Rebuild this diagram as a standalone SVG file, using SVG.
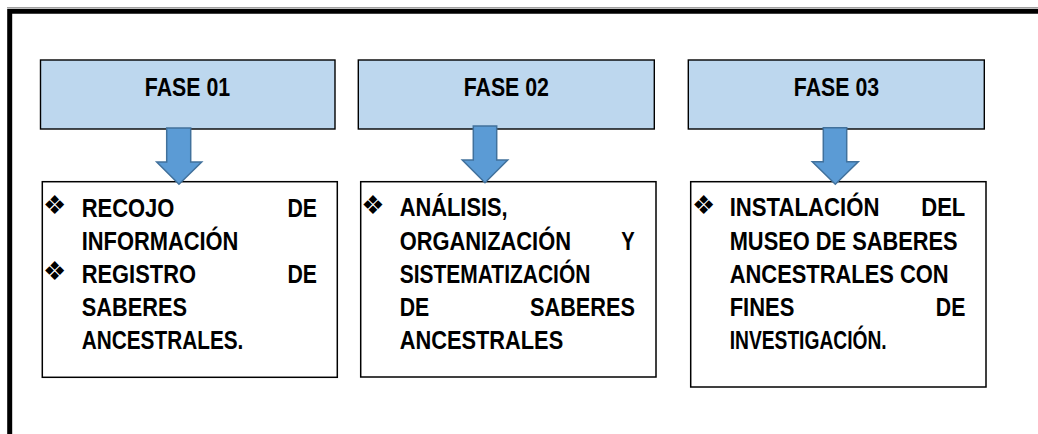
<svg xmlns="http://www.w3.org/2000/svg" width="1038" height="434" viewBox="0 0 1038 434">
<style>
.hdr{fill:#BDD7EE;stroke:#000;stroke-width:1.4}
.box{fill:#fff;stroke:#000;stroke-width:1.5}
.ht{font-family:"Liberation Sans",Arial,sans-serif;font-weight:bold;font-size:26px;fill:#000;text-anchor:middle}
.t{font-family:"Liberation Sans",Arial,sans-serif;font-weight:bold;font-size:25px;fill:#000}
.b{font-family:"DejaVu Sans",sans-serif;font-size:26px;fill:#000}
.arr{fill:#5B9BD5;stroke:#41719C;stroke-width:1.5;stroke-linejoin:miter}
</style>
<rect width="1038" height="434" fill="#fff"/>
<line x1="7" y1="7.5" x2="1038" y2="7.5" stroke="#a0a0a0" stroke-width="1"/>
<path d="M9.7,434 V11.2 H1038" fill="none" stroke="#000" stroke-width="5"/>

<g id="fase01">
<rect class="hdr" x="40.5" y="60" width="294.5" height="69"/>
<text class="ht" transform="translate(187.5,95.7) scale(0.82,1)">FASE 01</text>
</g>
<g id="fase02">
<rect class="hdr" x="358.3" y="60" width="296" height="69"/>
<text class="ht" transform="translate(506.3,95.7) scale(0.82,1)">FASE 02</text>
</g>
<g id="fase03">
<rect class="hdr" x="688.3" y="60" width="296" height="69"/>
<text class="ht" transform="translate(836.5,95.7) scale(0.82,1)">FASE 03</text>
</g>

<g id="box01">
<rect class="box" x="42.3" y="181.7" width="295" height="195.6"/>
<text class="b" x="43" y="214">❖</text>
<text class="b" x="43" y="280">❖</text>
<text class="t" x="81.7" y="216.7" textLength="92.7" lengthAdjust="spacingAndGlyphs">RECOJO</text>
<text class="t" x="287.5" y="216.7" textLength="29.5" lengthAdjust="spacingAndGlyphs">DE</text>
<text class="t" x="81.7" y="249.5" textLength="156.7" lengthAdjust="spacingAndGlyphs">INFORMACIÓN</text>
<text class="t" x="81.7" y="282.5" textLength="114.3" lengthAdjust="spacingAndGlyphs">REGISTRO</text>
<text class="t" x="287.5" y="282.5" textLength="29.5" lengthAdjust="spacingAndGlyphs">DE</text>
<text class="t" x="81.7" y="315.5" textLength="105.3" lengthAdjust="spacingAndGlyphs">SABERES</text>
<text class="t" x="81.7" y="348.5" textLength="161.7" lengthAdjust="spacingAndGlyphs">ANCESTRALES.</text>
</g>

<g id="box02">
<rect class="box" x="360.7" y="181.7" width="295.3" height="195.3"/>
<text class="b" x="361.3" y="214">❖</text>
<text class="t" x="399.7" y="216" textLength="108" lengthAdjust="spacingAndGlyphs">ANÁLISIS,</text>
<text class="t" x="399.7" y="249.8" textLength="171.3" lengthAdjust="spacingAndGlyphs">ORGANIZACIÓN</text>
<text class="t" x="621.2" y="249.8" textLength="13.5" lengthAdjust="spacingAndGlyphs">Y</text>
<text class="t" x="399.7" y="283" textLength="190.7" lengthAdjust="spacingAndGlyphs">SISTEMATIZACIÓN</text>
<text class="t" x="399.7" y="316" textLength="29.5" lengthAdjust="spacingAndGlyphs">DE</text>
<text class="t" x="530" y="316" textLength="105" lengthAdjust="spacingAndGlyphs">SABERES</text>
<text class="t" x="399.7" y="348.5" textLength="163.5" lengthAdjust="spacingAndGlyphs">ANCESTRALES</text>
</g>

<g id="box03">
<rect class="box" x="690.7" y="181.7" width="295.3" height="205.3"/>
<text class="b" x="692" y="214">❖</text>
<text class="t" x="729.7" y="216" textLength="149.7" lengthAdjust="spacingAndGlyphs">INSTALACIÓN</text>
<text class="t" x="921.3" y="216" textLength="44" lengthAdjust="spacingAndGlyphs">DEL</text>
<text class="t" x="729.7" y="249.8" textLength="228" lengthAdjust="spacingAndGlyphs">MUSEO DE SABERES</text>
<text class="t" x="729.7" y="282.5" textLength="219" lengthAdjust="spacingAndGlyphs">ANCESTRALES CON</text>
<text class="t" x="729.7" y="316" textLength="64.7" lengthAdjust="spacingAndGlyphs">FINES</text>
<text class="t" x="935.8" y="316" textLength="29.5" lengthAdjust="spacingAndGlyphs">DE</text>
<text class="t" x="729.7" y="348.5" textLength="157" lengthAdjust="spacingAndGlyphs">INVESTIGACIÓN.</text>
</g>

<g id="connectors">
<path class="arr" d="M166.7,128 H190.7 V162 H201.7 L179,184.3 L156.7,162 H166.7 Z"/>
<path class="arr" d="M473.3,126 H496.7 V160 H507.7 L485,182.7 L462.3,160 H473.3 Z"/>
<path class="arr" d="M823.3,127.7 H846.7 V161.7 H858.3 L835.3,184.3 L812.3,161.7 H823.3 Z"/>
</g>
</svg>
